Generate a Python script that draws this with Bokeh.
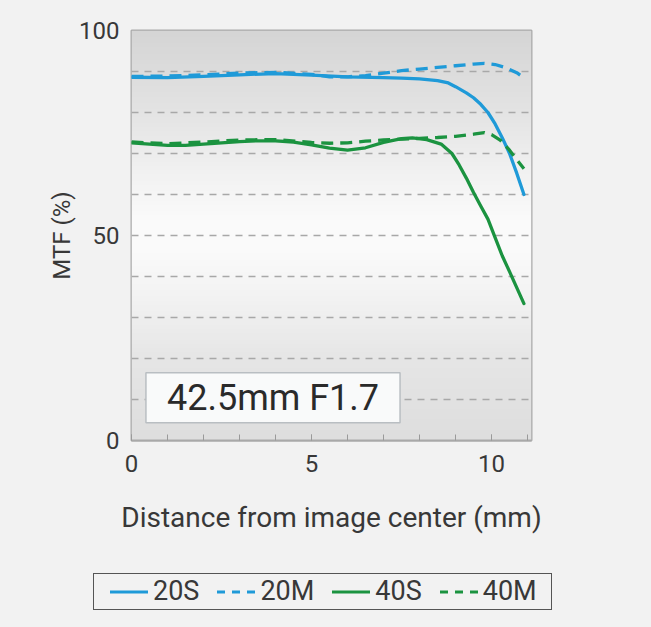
import numpy as np
from bokeh.plotting import figure
from bokeh.layouts import column
from bokeh.models import (Label, SingleIntervalTicker, FixedTicker, Div)
from bokeh.embed import file_html
from bokeh.resources import INLINE

# ---- data ----
x_20s = [0, 1, 2, 3, 4, 5, 6, 7, 7.5, 8, 8.5, 8.8, 9.0, 9.3, 9.5, 9.7, 9.9, 10.1, 10.3, 10.5, 10.7, 10.9]
y_20s = [88.6, 88.5, 88.8, 89.2, 89.5, 89.1, 88.7, 88.5, 88.4, 88.2, 87.8, 87.2, 86.3, 84.8, 83.6, 82.0, 80.0, 77.2, 73.8, 70.0, 65.2, 60.0]

x_20m = [0, 1, 2, 3, 4, 5, 5.5, 6, 6.5, 7, 7.5, 8, 8.5, 9, 9.5, 9.8, 10.1, 10.4, 10.7, 10.9]
y_20m = [88.8, 88.9, 89.2, 89.6, 89.8, 89.3, 88.7, 88.7, 89.0, 89.6, 90.2, 90.6, 91.0, 91.4, 91.8, 92.0, 91.7, 90.9, 89.7, 88.5]

x_40s = [0, 0.5, 1, 1.5, 2, 2.5, 3, 3.5, 4, 4.5, 5, 5.5, 6, 6.5, 7, 7.5, 7.8, 8.2, 8.6, 8.9, 9.1, 9.3, 9.5, 9.7, 9.9, 10.1, 10.3, 10.5, 10.7, 10.9]
y_40s = [72.6, 72.3, 72.0, 72.0, 72.3, 72.6, 72.9, 73.1, 73.1, 72.8, 72.1, 71.3, 70.8, 71.4, 72.7, 73.6, 73.8, 73.4, 72.3, 70.0, 67.2, 64.0, 60.5, 57.2, 54.0, 49.5, 45.0, 41.2, 37.3, 33.4]

x_40m = [0, 1, 2, 3, 4, 5, 5.5, 6, 6.5, 7, 7.5, 8, 8.5, 9, 9.5, 9.8, 10.0, 10.25, 10.5, 10.7, 10.9]
y_40m = [72.8, 72.4, 72.8, 73.3, 73.4, 72.7, 72.5, 72.6, 73.0, 73.3, 73.5, 73.7, 73.9, 74.2, 74.7, 75.1, 74.6, 73.2, 70.8, 68.5, 66.3]

series_names = ["20S", "20M", "40S", "40M"]
x_ticks = [0, 5, 10]
y_ticks = [0, 50, 100]
lens_label = "42.5mm F1.7"

BLUE = "#1f9ad8"
GREEN = "#1b9340"
FONT = "Roboto"
TXT = "#383838"
PAGE_BG = "#f2f2f2"

X_MAX = 11.11

p = figure(width=651, height=555, x_range=(0, X_MAX), y_range=(0, 100),
           output_backend="svg", toolbar_location=None,
           min_border_left=131, min_border_right=120, min_border_top=30,
           min_border_bottom=115,
           background_fill_color="#ececec", border_fill_color=PAGE_BG,
           outline_line_color="#a9a9a9", outline_line_width=2)

# vertical gradient background of the plot area
stops_y = [0, 20, 35, 47, 55, 65, 80, 100]
stops_v = [222, 230, 243, 251, 250, 242, 228, 213]
rows = np.linspace(0, 100, 200)
g = np.interp(rows, stops_y, stops_v).astype(np.uint32)
img = np.empty((200, 2), dtype=np.uint32)
view = img.view(dtype=np.uint8).reshape((200, 2, 4))
view[:, :, 0] = g[:, None]
view[:, :, 1] = g[:, None]
view[:, :, 2] = g[:, None]
view[:, :, 3] = 255
p.image_rgba(image=[img], x=0, y=0, dw=X_MAX, dh=100, level="image")

# grid
p.xgrid.grid_line_color = None
p.ygrid.ticker = FixedTicker(ticks=list(range(10, 100, 10)))
p.ygrid.grid_line_color = "#a8a8a8"
p.ygrid.grid_line_width = 1.5
p.ygrid.grid_line_dash = "7 6"

# axes
p.xaxis.ticker = SingleIntervalTicker(interval=5, num_minor_ticks=5)
p.xaxis.major_tick_in = 6
p.xaxis.major_tick_out = 0
p.xaxis.minor_tick_in = 6
p.xaxis.minor_tick_out = 0
p.xaxis.major_tick_line_color = "#9a9a9a"
p.xaxis.minor_tick_line_color = "#9a9a9a"
p.xaxis.axis_line_color = "#a9a9a9"
p.xaxis.axis_line_width = 2
p.xaxis.axis_label = "Distance from image center (mm)"
p.xaxis.major_label_standoff = 14
p.xaxis.axis_label_standoff = 26

p.yaxis.ticker = FixedTicker(ticks=y_ticks)
p.yaxis.major_tick_in = 0
p.yaxis.major_tick_out = 0
p.yaxis.minor_tick_line_color = None
p.yaxis.axis_line_color = None
p.yaxis.axis_label = "MTF (%)"
p.yaxis.major_label_standoff = 12
p.yaxis.axis_label_standoff = 0

for ax in (p.xaxis[0], p.yaxis[0]):
    ax.major_label_text_font = FONT
    ax.major_label_text_font_size = "24px"
    ax.major_label_text_color = TXT
    ax.axis_label_text_font = FONT
    ax.axis_label_text_font_size = "24px"
    ax.axis_label_text_font_style = "normal"
    ax.axis_label_text_color = TXT
p.xaxis.axis_label_text_font_size = "28px"

# lines
p.line(x_20s, y_20s, line_color=BLUE, line_width=3.3, line_join="round", line_cap="round")
p.line(x_20m, y_20m, line_color=BLUE, line_width=3.3, line_dash="12 7")
p.line(x_40s, y_40s, line_color=GREEN, line_width=3.3, line_join="round", line_cap="round")
p.line(x_40m, y_40m, line_color=GREEN, line_width=3.3, line_dash="12 7")

# lens label box
lab = Label(x=3.93, y=10.4, text=lens_label, text_align="center", text_baseline="middle",
            text_font=FONT, text_font_size="36px", text_color="#2a2a2a",
            background_fill_color="#f9fafa", border_line_color="#b9bec2", border_line_width=1.5,
            padding=(21, 4))
p.add_layout(lab)

# ---- legend strip below the chart ----
styles = [(BLUE, None), (BLUE, "8 7"), (GREEN, None), (GREEN, "8 7")]


def swatch(color, dash):
    da = "" if dash is None else f' stroke-dasharray="{dash}"'
    return (f'<svg width="38" height="10" style="display:block">'
            f'<line x1="0" y1="5" x2="38" y2="5" stroke="{color}" stroke-width="3"{da}/></svg>')


items_html = "".join(
    f'<div style="display:flex;align-items:center;margin-right:18px">{swatch(c, d)}'
    f'<span style="margin-left:5px">{name}</span></div>'
    for name, (c, d) in zip(series_names, styles))

legend_html = (
    f'<div style="margin:18px 0 0 93px;width:459px;height:37px;border:1.5px solid #555;'
    f'box-sizing:border-box;display:flex;align-items:center;padding-left:16px;'
    f'font-family:Roboto;font-size:27px;color:{TXT};background:{PAGE_BG};line-height:1">'
    f'{items_html}</div>')

leg = Div(text=legend_html, width=651, height=72, margin=(0, 0, 0, 0),
          styles={"background-color": PAGE_BG})

layout = column(p, leg, spacing=0, styles={"background-color": PAGE_BG})
open("out.html", "w").write(file_html(layout, INLINE))
